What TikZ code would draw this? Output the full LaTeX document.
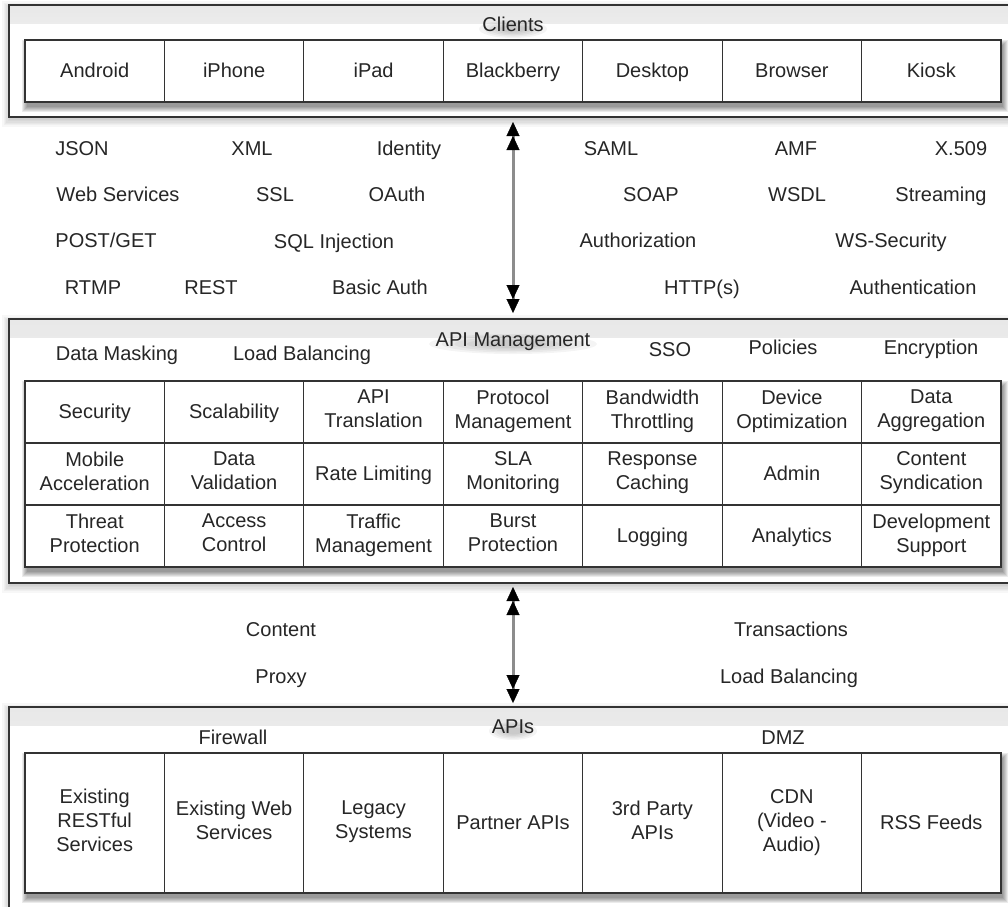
\documentclass[tikz,border=0pt]{standalone}
\usepackage{fontspec}
\setmainfont{Liberation Sans}
\usetikzlibrary{arrows.meta,calc}
\definecolor{txt}{HTML}{262626}
\definecolor{edge}{HTML}{333333}
\pgfdeclarelayer{back}
\pgfdeclarelayer{oshadow}
\pgfdeclarelayer{obox}
\pgfdeclarelayer{gshadow}
\pgfsetlayers{back,oshadow,obox,gshadow,main}

% soft shadow: #1 nw anchor, #2 se anchor, #3 dx, #4 dy (down), #5 blur, #6 opacity per layer
\newcommand\softshadow[6]{%
  \foreach \k in {1,...,6}{%
    \pgfmathsetmacro\rr{#5*(1-\k/6)}%
    \fill[black, opacity=#6]
      ([xshift={(#3-\rr)*1pt}, yshift={(\rr-#4)*1pt}]#1) rectangle
      ([xshift={(#3+\rr)*1pt}, yshift={(-#4-\rr)*1pt}]#2);
  }}
% blurred glow below a title: #1 coordinate, #2 x radius, #3 y radius
\newcommand\glowunder[3]{%
  \foreach \s in {1.0,0.85,0.7,0.55,0.4}{%
    \fill[black, opacity=0.045] ([yshift=2pt]#1) ellipse [x radius={#2*\s*1pt}, y radius={#3*\s*1pt}];
  }}

\tikzset{
  every node/.style={font=\fontsize{20}{24}\selectfont, text=txt},
  lbl/.style={anchor=base, inner sep=0pt, outer sep=0pt},
  cell/.style={draw=edge, line width=1.1pt, fill=white, minimum width=139.43pt,
    minimum height=62pt, inner sep=0pt, outer sep=0pt, align=center,
    execute at begin node={\rule{0pt}{18pt}}, execute at end node={\rule[-6pt]{0pt}{6pt}}},
  tallcell/.style={cell, minimum height=140pt},
  outer/.style={draw=edge, line width=1.3pt, fill=white, anchor=north west,
    inner sep=0pt, outer sep=0pt, minimum width=1008pt,
    path picture={\shade[top color=black!9, bottom color=white]
      (path picture bounding box.north west) rectangle
      ([yshift=-18pt]path picture bounding box.north east);}},
  dbl/.style={line width=3pt, draw=black!45,
    arrows={{Triangle[length=14pt,width=13pt,color=black,line width=0.3pt,sep=0pt]Triangle[length=14pt,width=13pt,color=black,line width=0.3pt]}-{Triangle[length=14pt,width=13pt,color=black,line width=0.3pt,sep=0pt]Triangle[length=14pt,width=13pt,color=black,line width=0.3pt]}}},
}

\begin{document}
\begin{tikzpicture}[x=1pt, y=-1pt]
\begin{pgfonlayer}{back}
  \fill[white] (0,0) rectangle (1008,906);
\end{pgfonlayer}
\useasboundingbox (0,0) rectangle (1008,906);

% ---------- outer boxes ----------
\begin{pgfonlayer}{obox}
  \node[outer, minimum height=112pt] (clients) at (9,5) {};
  \node[outer, minimum height=264pt] (mgmt) at (9,319) {};
  \node[outer, minimum height=212pt] (apis) at (9,707) {};
\end{pgfonlayer}
\begin{pgfonlayer}{oshadow}
  \softshadow{clients.north west}{clients.south east}{0}{3}{8}{0.03}
  \softshadow{mgmt.north west}{mgmt.south east}{0}{3}{8}{0.03}
  \softshadow{apis.north west}{apis.south east}{0}{3}{8}{0.03}
\end{pgfonlayer}

% ---------- Clients ----------
\coordinate (tclients) at (513,31);
\glowunder{tclients}{34}{9}
\node[lbl] (clientstitle) at (tclients) {Clients};
\foreach \t [count=\i] in {Android,iPhone,iPad,Blackberry,Desktop,Browser,Kiosk}
  \node[cell] (cl\i) at ({94.71+(\i-1)*139.43},71) {\t};

% ---------- protocols ----------
\node[lbl] (json)   at (82,155)  {JSON};
\node[lbl] (xml)    at (252,155) {XML};
\node[lbl] (ident)  at (409,155) {Identity};
\node[lbl] (saml)   at (611,155) {SAML};
\node[lbl] (amf)    at (796,155) {AMF};
\node[lbl] (x509)   at (961,155) {X.509};
\node[lbl] (ws)     at (118,201) {Web Services};
\node[lbl] (ssl)    at (275,201) {SSL};
\node[lbl] (oauth)  at (397,201) {OAuth};
\node[lbl] (soap)   at (651,201) {SOAP};
\node[lbl] (wsdl)   at (797,201) {WSDL};
\node[lbl] (stream) at (941,201) {Streaming};
\node[lbl] (post)   at (106,247) {POST/GET};
\node[lbl] (sqli)   at (334,248) {SQL Injection};
\node[lbl] (authz)  at (638,247) {Authorization};
\node[lbl] (wssec)  at (891,247) {WS-Security};
\node[lbl] (rtmp)   at (93,294)  {RTMP};
\node[lbl] (rest)   at (211,294) {REST};
\node[lbl] (basic)  at (380,294) {Basic Auth};
\node[lbl] (http)   at (702,294) {HTTP(s)};
\node[lbl] (authn)  at (913,294) {Authentication};

% ---------- API Management ----------
\coordinate (tmgmt) at (513,346);
\glowunder{tmgmt}{84}{10}
\node[lbl] (mgmttitle) at (tmgmt) {API Management};
\node[lbl] (mask)   at (117,360) {Data Masking};
\node[lbl] (lb1)    at (302,360) {Load Balancing};
\node[lbl] (sso)    at (670,356) {SSO};
\node[lbl] (pol)    at (783,354) {Policies};
\node[lbl] (enc)    at (931,354) {Encryption};

\foreach \t [count=\i] in {Security,Scalability,{API\\Translation},{Protocol\\Management},{Bandwidth\\Throttling},{Device\\Optimization},{Data\\Aggregation}}
  \node[cell] (ma\i) at ({94.71+(\i-1)*139.43},412) {\t};
\foreach \t [count=\i] in {{Mobile\\Acceleration},{Data\\Validation},Rate Limiting,{SLA\\Monitoring},{Response\\Caching},Admin,{Content\\Syndication}}
  \node[cell] (mb\i) at ({94.71+(\i-1)*139.43},474) {\t};
\foreach \t [count=\i] in {{Threat\\Protection},{Access\\Control},{Traffic\\Management},{Burst\\Protection},Logging,Analytics,{Development\\Support}}
  \node[cell] (mc\i) at ({94.71+(\i-1)*139.43},536) {\t};

% ---------- between ----------
\node[lbl] (content) at (281,636) {Content};
\node[lbl] (trans)   at (791,636) {Transactions};
\node[lbl] (proxy)   at (281,683) {Proxy};
\node[lbl] (lb2)     at (789,683) {Load Balancing};

% ---------- APIs ----------
\coordinate (tapis) at (513,733);
\glowunder{tapis}{24}{9}
\node[lbl] (apistitle) at (tapis) {APIs};
\node[lbl] (fw)  at (233,744) {Firewall};
\node[lbl] (dmz) at (783,744) {DMZ};
\foreach \t [count=\i] in {{Existing\\RESTful\\Services},{Existing Web\\Services},{Legacy\\Systems},Partner APIs,{3rd Party\\APIs},{CDN\\(Video -\\Audio)},RSS Feeds}
  \node[tallcell] (ap\i) at ({94.71+(\i-1)*139.43},823) {\t};

% ---------- grid shadows ----------
\begin{pgfonlayer}{gshadow}
  \softshadow{cl1.north west}{cl7.south east}{2}{5}{6}{0.08}
  \softshadow{ma1.north west}{mc7.south east}{2}{5}{6}{0.08}
  \softshadow{ap1.north west}{ap7.south east}{2}{5}{6}{0.08}
\end{pgfonlayer}

% ---------- connectors ----------
\draw[dbl, shorten <=5pt, shorten >=6pt] (clients.south) -- (mgmt.north);
\draw[dbl, shorten <=4pt, shorten >=4pt] (mgmt.south) -- (apis.north);
\end{tikzpicture}
\end{document}
